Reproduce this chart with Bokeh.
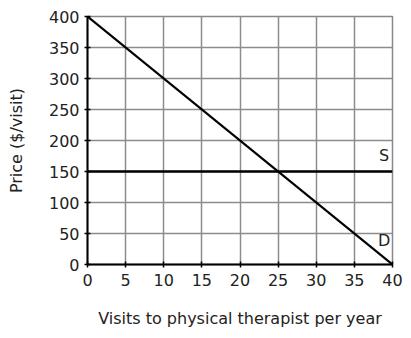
from bokeh.plotting import figure
from bokeh.models import Range1d, FixedTicker, Label
from bokeh.embed import file_html
from bokeh.resources import INLINE

# Data
demand_q = [0, 40]
demand_p = [400, 0]
supply_q = [0, 40]
supply_p = [150, 150]
x_ticks = [0, 5, 10, 15, 20, 25, 30, 35, 40]
y_ticks = [0, 50, 100, 150, 200, 250, 300, 350, 400]
labels = [("S", 38.9, 160), ("D", 38.9, 23)]

FONT = "DejaVu Sans"

p = figure(width=411, height=338, output_backend="svg", toolbar_location=None,
           x_range=Range1d(0, 40), y_range=Range1d(0, 400),
           min_border_left=87, min_border_right=19, min_border_top=16, min_border_bottom=70)
p.frame_width = 305
p.frame_height = 248
p.outline_line_color = "#888888"
p.outline_line_width = 1.5
p.background_fill_color = "white"
p.border_fill_color = "white"

for ax, ticks in ((p.xaxis[0], x_ticks), (p.yaxis[0], y_ticks)):
    ax.ticker = FixedTicker(ticks=ticks)
    ax.axis_line_color = "black"
    ax.axis_line_width = 2
    ax.major_tick_line_color = "black"
    ax.major_tick_line_width = 1.5
    ax.major_tick_out = 3
    ax.major_tick_in = 3
    ax.minor_tick_line_color = None
    ax.major_label_text_font = FONT
    ax.major_label_text_font_size = "16px"
    ax.major_label_text_color = "#222222"
    ax.axis_label_text_font = FONT
    ax.axis_label_text_font_size = "16px"
    ax.axis_label_text_font_style = "normal"
    ax.axis_label_text_color = "#222222"

p.xaxis.axis_label = "Visits to physical therapist per year"
p.yaxis.axis_label = "Price ($/visit)"
p.xaxis.major_label_standoff = 6
p.xaxis.axis_label_standoff = 20
p.yaxis.major_label_standoff = 5
p.yaxis.axis_label_standoff = 20

p.xgrid.ticker = FixedTicker(ticks=x_ticks)
p.ygrid.ticker = FixedTicker(ticks=y_ticks)
p.grid.grid_line_color = "#8c8c8c"
p.grid.grid_line_width = 1.5
p.grid.grid_line_alpha = 1.0

p.line(supply_q, supply_p, line_color="black", line_width=2.5)
p.line(demand_q, demand_p, line_color="black", line_width=2.2)

for txt, x, y in labels:
    p.add_layout(Label(x=x, y=y, text=txt, text_font=FONT, text_font_size="16px",
                       text_color="#222222", text_align="center", text_baseline="bottom"))

open("out.html", "w").write(file_html(p, INLINE))
